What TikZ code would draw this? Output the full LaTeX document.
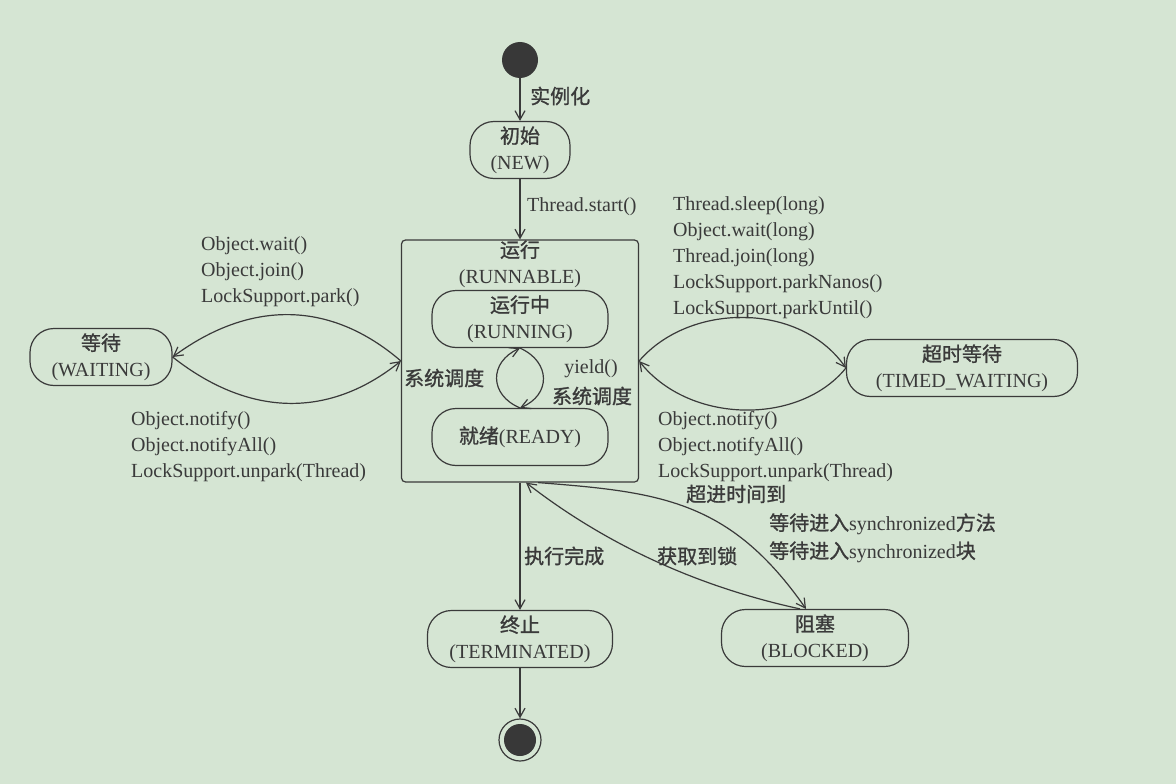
\documentclass[tikz,border=0pt]{standalone}
\usepackage{fontspec}
\setmainfont{Liberation Serif}
\newfontfamily\cjk{Noto Sans CJK SC}[FakeBold=1.2]
\usetikzlibrary{arrows.meta,calc}
\definecolor{bgcol}{RGB}{213,229,211}
\definecolor{inkcol}{RGB}{58,58,58}
\tikzset{
	state/.style={draw=inkcol, line width=1.2pt, rounded corners=24pt, minimum height=57pt, align=center, inner sep=0pt, text=inkcol},
	lbl/.style={text=inkcol, inner sep=0pt, align=left},
	trans/.style={draw=inkcol, line width=1.2pt, -{Straight Barb[length=9pt,width=10pt]}},
}

\begin{document}
\begin{tikzpicture}[x=1pt, y=-1pt, font=\fontsize{20}{26}\selectfont]
			%%%%% START %%%%%
			
			\fill[bgcol] (0,0) rectangle (1176,784);
			
			\node[circle, fill=black!78, minimum size=36pt, inner sep=0pt] (start) at (520,60) {};
			\node[circle, draw=inkcol, line width=1.2pt, minimum size=42pt, inner sep=0pt] (stop) at (520,740) {};
			\fill[black!78] (stop.center) circle (16);
			
			\node[state, minimum width=100pt] (new) at (520,150) {{\cjk 初始}\\(NEW)};
			
			\node[draw=inkcol, line width=1.2pt, rounded corners=4pt, minimum width=237pt, minimum height=242pt, inner sep=0pt] (runnable) at (520,361) {};
			\node[lbl, align=center] (runtitle) at (520,264) {{\cjk 运行}\\(RUNNABLE)};
			\node[state, minimum width=176pt] (running) at (520,319) {{\cjk 运行中}\\(RUNNING)};
			\node[state, minimum width=176pt] (ready) at (520,437) {{\cjk 就绪}(READY)};
			
			\node[state, minimum width=142pt] (waiting) at (101,357) {{\cjk 等待}\\(WAITING)};
			\node[state, minimum width=231pt] (timed) at (962,368) {{\cjk 超时等待}\\(TIMED\_WAITING)};
			\node[state, minimum width=185pt] (terminated) at (520,639) {{\cjk 终止}\\(TERMINATED)};
			\node[state, minimum width=187pt] (blocked) at (815,638) {{\cjk 阻塞}\\(BLOCKED)};
			
			\draw[trans] (start) -- (new);
			\draw[trans] (new) -- (runnable);
			\draw[trans] (runnable) -- (terminated);
			\draw[trans] (terminated) -- (stop);
			
			% waiting
			\draw[trans] (runnable.west) .. controls (330,300) and (250,300) .. (waiting.east);
			\draw[trans] (waiting.east) .. controls (250,418) and (330,418) .. (runnable.west);
			
			% timed waiting
			\draw[trans] (runnable.east) .. controls (690,302) and (800,302) .. (timed.west);
			\draw[trans] (timed.west) .. controls (800,425) and (690,425) .. (runnable.east);
			
			\draw[trans] (ready.north) .. controls (489,395) and (489,362) .. (running.south);
			\draw[trans] (running.south) .. controls (551,362) and (551,395) .. (ready.north);
			
			% blocked
			\draw[trans] ([xshift=18pt]runnable.south) .. controls (660,492) and (730,500) .. ([xshift=-9pt]blocked.north);
			\draw[trans] ([xshift=-15pt]blocked.north) .. controls (690,585) and (600,540) .. ([xshift=6pt]runnable.south);
			
			\node[lbl, anchor=west] (instlbl) at (530,96) {\cjk 实例化};
			\node[lbl, anchor=west] (startlbl) at (527,207) {Thread.start()};
			\node[lbl, anchor=west] (waitlbl) at (201,272) {Object.wait()\\Object.join()\\LockSupport.park()};
			\node[lbl, anchor=west] (notifylbl) at (131,447) {Object.notify()\\Object.notifyAll()\\LockSupport.unpark(Thread)};
			\node[lbl, anchor=west] (sleeplbl) at (673,257.5) {Thread.sleep(long)\\Object.wait(long)\\Thread.join(long)\\LockSupport.parkNanos()\\LockSupport.parkUntil()};
			\node[lbl, anchor=west] (tnotifylbl) at (658,447) {Object.notify()\\Object.notifyAll()\\LockSupport.unpark(Thread)};
			\node[lbl, anchor=west] (schedlbl) at (404,378) {\cjk 系统调度};
			\node[lbl] (yieldlbl) at (591,369) {yield()};
			\node[lbl] (sched2lbl) at (592,396) {\cjk 系统调度};
			\node[lbl, anchor=west] (donelbl) at (524,556) {\cjk 执行完成};
			\node[lbl, anchor=west] (locklbl) at (657,556) {\cjk 获取到锁};
			\node[lbl, anchor=west] (timeoutlbl) at (686,494) {\cjk 超进时间到};
			\node[lbl, anchor=west] (synclbl) at (769,538) {{\cjk 等待进入}synchronized{\cjk 方法}\\[2pt]{\cjk 等待进入}synchronized{\cjk 块}};
			
			%%%%% END %%%%%
\end{tikzpicture}
\end{document}
